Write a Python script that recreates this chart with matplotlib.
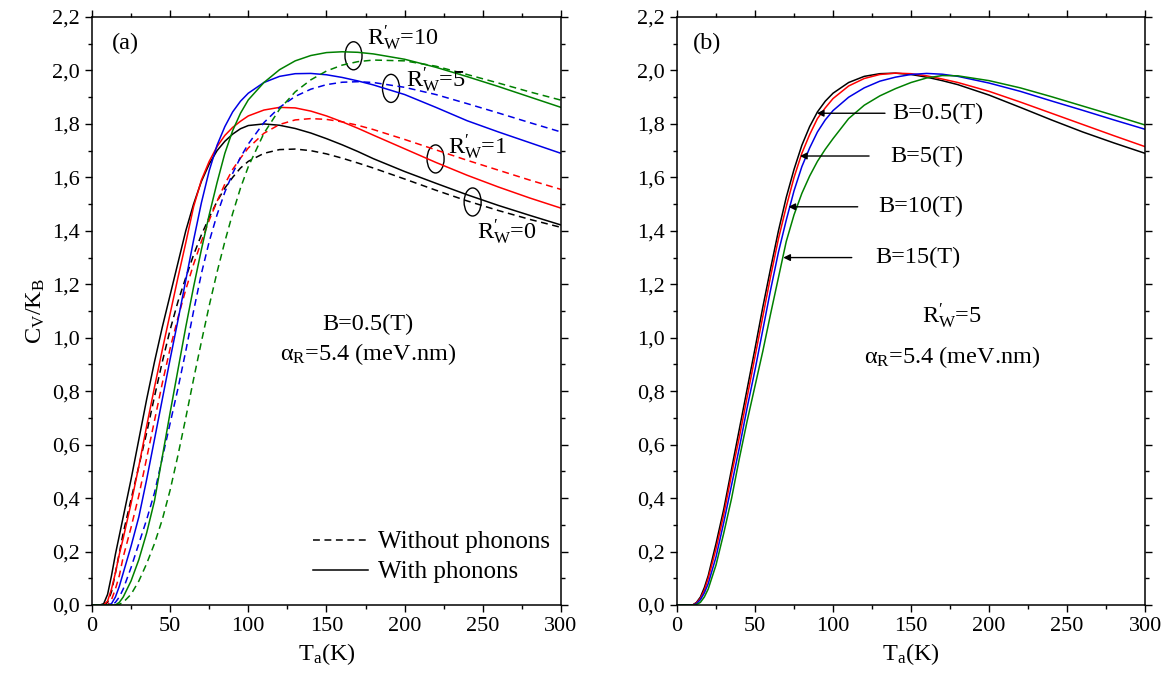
import matplotlib
matplotlib.use("Agg")

import matplotlib.pyplot as plt
from matplotlib.lines import Line2D
from matplotlib.patches import Ellipse
from matplotlib.ticker import MultipleLocator, FuncFormatter

plt.rcParams['font.family'] = ['Liberation Serif', 'DejaVu Serif']
plt.rcParams['mathtext.fontset'] = 'custom'
plt.rcParams['mathtext.rm'] = 'Liberation Serif'
plt.rcParams['mathtext.it'] = 'Liberation Serif:italic'
plt.rcParams['mathtext.bf'] = 'Liberation Serif:bold'

# temperature grid (K), shared by all curves
temp = [0, 5, 7.5, 10, 12.5, 15, 17.5, 20,
        25, 30, 35, 40, 45, 50, 55, 60, 65, 70, 75, 80, 85, 90, 95, 100,
        110, 120, 130, 140, 150, 160, 170, 180,
        200, 220, 240, 260, 280, 300]

# panel (a): B = 0.5 T, with phonons (solid)
r0_with = [0, 0, 0.005, 0.04, 0.11, 0.19, 0.26, 0.33,
           0.47, 0.62, 0.77, 0.91, 1.04, 1.16, 1.28, 1.40, 1.50, 1.585, 1.65, 1.70, 1.735, 1.762, 1.782, 1.794,
           1.80, 1.795, 1.783, 1.766, 1.745, 1.722, 1.697, 1.67,
           1.622, 1.578, 1.535, 1.495, 1.458, 1.422]
r1_with = [0, 0, 0, 0.015, 0.06, 0.12, 0.19, 0.25,
           0.38, 0.52, 0.67, 0.815, 0.955, 1.09, 1.225, 1.355, 1.49, 1.59, 1.66, 1.715, 1.757, 1.787, 1.81, 1.83,
           1.852, 1.862, 1.86, 1.848, 1.83, 1.808, 1.784, 1.758,
           1.707, 1.656, 1.608, 1.564, 1.523, 1.485]
r5_with = [0, 0, 0, 0, 0.005, 0.03, 0.07, 0.12,
           0.22, 0.33, 0.47, 0.62, 0.77, 0.92, 1.065, 1.215, 1.365, 1.505, 1.625, 1.72, 1.79, 1.845, 1.885, 1.915,
           1.955, 1.978, 1.988, 1.989, 1.984, 1.974, 1.961, 1.946,
           1.91, 1.862, 1.812, 1.77, 1.73, 1.69]
r10_with = [0, 0, 0, 0, 0, 0, 0.01, 0.03,
            0.09, 0.17, 0.27, 0.39, 0.555, 0.72, 0.88, 1.04, 1.19, 1.33, 1.46, 1.58, 1.69, 1.775, 1.84, 1.89,
            1.955, 2.003, 2.036, 2.056, 2.067, 2.07, 2.068, 2.062,
            2.042, 2.012, 1.977, 1.94, 1.901, 1.862]

# panel (a): without phonons (dashed)
r0_without = [0, 0, 0, 0.01, 0.05, 0.12, 0.195, 0.27,
              0.395, 0.52, 0.645, 0.78, 0.91, 1.03, 1.135, 1.225, 1.31, 1.385, 1.45, 1.51, 1.56, 1.60, 1.635, 1.66,
              1.69, 1.704, 1.706, 1.70, 1.688, 1.672, 1.654, 1.635,
              1.594, 1.552, 1.512, 1.476, 1.443, 1.413]
r1_without = [0, 0, 0, 0, 0.02, 0.06, 0.11, 0.18,
              0.29, 0.41, 0.55, 0.69, 0.83, 0.96, 1.075, 1.18, 1.275, 1.36, 1.44, 1.51, 1.575, 1.63, 1.672, 1.71,
              1.765, 1.798, 1.815, 1.82, 1.817, 1.808, 1.795, 1.779,
              1.742, 1.703, 1.664, 1.627, 1.59, 1.555]
r5_without = [0, 0, 0, 0, 0, 0.01, 0.03, 0.06,
              0.14, 0.23, 0.32, 0.42, 0.55, 0.68, 0.81, 0.95, 1.10, 1.24, 1.36, 1.46, 1.545, 1.615, 1.675, 1.725,
              1.805, 1.862, 1.903, 1.93, 1.947, 1.956, 1.958, 1.955,
              1.937, 1.91, 1.876, 1.841, 1.805, 1.77]
r10_without = [0, 0, 0, 0, 0, 0, 0.003, 0.01,
               0.04, 0.09, 0.155, 0.23, 0.32, 0.43, 0.56, 0.70, 0.845, 0.985, 1.12, 1.245, 1.36, 1.465, 1.56, 1.64,
               1.765, 1.855, 1.92, 1.965, 1.998, 2.02, 2.033, 2.039,
               2.036, 2.016, 1.985, 1.953, 1.92, 1.889]

# panel (b): R'_W = 5, different fields
b05 = [0, 0, 0, 0, 0.01, 0.03, 0.065, 0.11,
       0.23, 0.36, 0.51, 0.66, 0.81, 0.96, 1.115, 1.26, 1.40, 1.525, 1.63, 1.72, 1.79, 1.845, 1.885, 1.915,
       1.955, 1.978, 1.988, 1.99, 1.985, 1.975, 1.962, 1.947,
       1.908, 1.862, 1.815, 1.77, 1.729, 1.69]
b5 = [0, 0, 0, 0, 0.008, 0.025, 0.055, 0.10,
      0.21, 0.34, 0.49, 0.63, 0.78, 0.93, 1.08, 1.23, 1.37, 1.49, 1.60, 1.69, 1.76, 1.82, 1.86, 1.895,
      1.942, 1.97, 1.985, 1.99, 1.988, 1.98, 1.968, 1.955,
      1.922, 1.882, 1.84, 1.798, 1.756, 1.715]
b10 = [0, 0, 0, 0, 0.005, 0.02, 0.045, 0.08,
       0.18, 0.31, 0.45, 0.59, 0.74, 0.88, 1.03, 1.18, 1.32, 1.44, 1.55, 1.64, 1.71, 1.77, 1.815, 1.85,
       1.90, 1.935, 1.96, 1.975, 1.985, 1.989, 1.986, 1.978,
       1.953, 1.922, 1.886, 1.851, 1.815, 1.78]
b15 = [0, 0, 0, 0, 0.002, 0.01, 0.03, 0.06,
       0.15, 0.27, 0.40, 0.55, 0.69, 0.82, 0.95, 1.09, 1.225, 1.36, 1.46, 1.54, 1.605, 1.66, 1.705, 1.745,
       1.82, 1.87, 1.905, 1.932, 1.955, 1.972, 1.981, 1.98,
       1.962, 1.935, 1.902, 1.867, 1.832, 1.796]

colors = ['black', '#ff0000', '#0000e6', '#008000']
rw_labels = ['0', '1', '5', '10']
b_labels = ['B=0.5(T)', 'B=5(T)', 'B=10(T)', 'B=15(T)']

# ellipse centres marking the pairs in (a), and where their labels sit
ell_pos = [(243.5, 1.508), (219.8, 1.669), (191.3, 1.933), (167.3, 2.055)]
rw_text_pos = [(246.1, 1.368), (227.7, 1.687), (201.2, 1.939), (176.0, 2.095)]

# arrows in (b): (tail T, head T, value, text T)
arrows_b = [(133.3, 89.6, 1.84, 138), (123.1, 78.8, 1.68, 136.5),
            (115.8, 71.4, 1.49, 129), (112.0, 68.1, 1.30, 127)]

fig = plt.figure(figsize=(11.76, 6.73), dpi=100)
ax1 = fig.add_axes([0.0782, 0.101, 0.3988, 0.8737])
ax2 = fig.add_axes([0.5757, 0.101, 0.398, 0.8737])

dash = (0, (4.5, 3))
lw = 1.1
fs = 17.5

with_curves = [r0_with, r1_with, r5_with, r10_with]
without_curves = [r0_without, r1_without, r5_without, r10_without]
for c, yw, yo in zip(colors, with_curves, without_curves):
    ax1.plot(temp, yo, color=c, lw=lw, linestyle=dash)
    ax1.plot(temp, yw, color=c, lw=lw)

for c, y in zip(colors, [b05, b5, b10, b15]):
    ax2.plot(temp, y, color=c, lw=lw)

comma = FuncFormatter(lambda v, p: f"{v:.1f}".replace('.', ','))
for ax in (ax1, ax2):
    ax.set_xlim(0, 300)
    ax.set_ylim(0, 2.2)
    ax.xaxis.set_major_locator(MultipleLocator(50))
    ax.xaxis.set_minor_locator(MultipleLocator(25))
    ax.yaxis.set_major_locator(MultipleLocator(0.2))
    ax.yaxis.set_minor_locator(MultipleLocator(0.1))
    ax.yaxis.set_major_formatter(comma)
    ax.tick_params(which='both', direction='out', top=True, right=True, width=1, labelsize=16)
    ax.tick_params(which='major', length=5)
    ax.tick_params(which='minor', length=3)
    for s in ax.spines.values():
        s.set_linewidth(1.1)
    ax.set_xlabel(r"T$_\mathrm{a}$(K)", fontsize=fs, labelpad=4)

ax1.set_ylabel(r"C$_\mathrm{V}$/K$_\mathrm{B}$", fontsize=fs, labelpad=4)

# panel (a) annotations
ax1.text(12.8, 2.08, "(a)", fontsize=fs, va='baseline')
for (ex, ey), (tx, ty), lab in zip(ell_pos, rw_text_pos, rw_labels):
    ax1.add_patch(Ellipse((ex, ey), 10.9, 0.105, fill=False, ec='black', lw=1))
    ax1.text(tx, ty, r"R$^{\prime}_{\mathrm{W}}$=" + lab, fontsize=fs, va='baseline')
ax1.text(176.6, 1.03, "B=0.5(T)", fontsize=fs, ha='center', va='baseline')
ax1.text(176.6, 0.917, r"α$_\mathrm{R}$=5.4 (meV.nm)", fontsize=fs, ha='center', va='baseline')

handles = [Line2D([], [], color='black', lw=lw, linestyle=dash),
           Line2D([], [], color='black', lw=lw)]
ax1.legend(handles, ["Without phonons", "With phonons"], loc='lower right',
           bbox_to_anchor=(0.998, 0.02), frameon=False, fontsize=18, handlelength=2.2,
           labelspacing=0.3, handletextpad=0.4, borderaxespad=0)

# panel (b) annotations
ax2.text(10, 2.08, "(b)", fontsize=fs, va='baseline')
for (t0, t1, v, tt), lab in zip(arrows_b, b_labels):
    ax2.annotate("", xy=(t1, v), xytext=(t0, v),
                 arrowprops=dict(arrowstyle='-|>', color='black', lw=1, mutation_scale=10,
                                 shrinkA=0, shrinkB=0))
    ax2.text(tt, v, lab, fontsize=fs, va='center')
ax2.text(176, 1.054, r"R$^{\prime}_{\mathrm{W}}$=5", fontsize=fs, ha='center', va='baseline')
ax2.text(176, 0.905, r"α$_\mathrm{R}$=5.4 (meV.nm)", fontsize=fs, ha='center', va='baseline')

fig.savefig("out.png", dpi=100)
